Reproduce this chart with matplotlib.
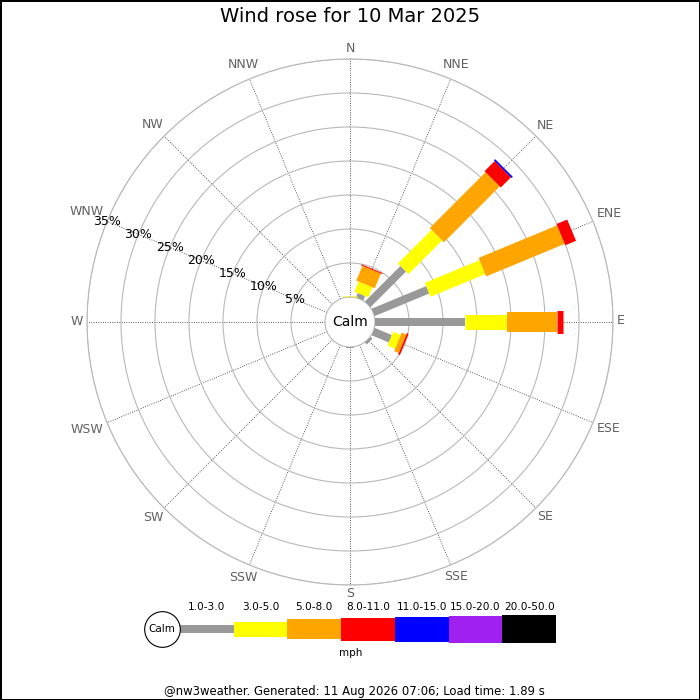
import matplotlib
matplotlib.use('Agg')
import matplotlib.pyplot as plt
import numpy as np

# wind rose data: percent of time per direction, stacked by speed bin
directions = ['N', 'NNE', 'NE', 'ENE', 'E', 'ESE', 'SE', 'SSE',
              'S', 'SSW', 'SW', 'WSW', 'W', 'WNW', 'NW', 'NNW']
speed_bins = ['1.0-3.0', '3.0-5.0', '5.0-8.0', '8.0-11.0', '11.0-15.0', '15.0-20.0', '20.0-50.0']
bin_colors = ['#999999', '#ffff00', '#ffa500', '#ff0000', '#0000ff', '#a020f0', '#000000']

pct_1_3 = [0.0, 0.7, 7.4, 8.7, 13.2, 2.75, 0.4, 0.0, 0.2, 0, 0, 0, 0, 0, 0, 0]
pct_3_5 = [0.2, 1.6, 7.0, 8.7, 6.2, 1.2, 0, 0, 0, 0, 0, 0, 0, 0, 0, 0]
pct_5_8 = [0, 2.35, 11.6, 12.5, 7.4, 0.75, 0, 0, 0, 0, 0, 0, 0, 0, 0, 0]
pct_8_11 = [0, 0.15, 2.1, 1.7, 0.9, 0.25, 0, 0, 0, 0, 0, 0, 0, 0, 0, 0]
pct_11_15 = [0, 0, 0.25, 0, 0, 0, 0, 0, 0, 0, 0, 0, 0, 0, 0, 0]
pct_15_20 = [0] * 16
pct_20_50 = [0] * 16
all_bins = [pct_1_3, pct_3_5, pct_5_8, pct_8_11, pct_11_15, pct_15_20, pct_20_50]

r_ticks = [5, 10, 15, 20, 25, 30, 35]
bar_px = [8, 15, 20, 23, 25, 27, 28]

fig = plt.figure(figsize=(7, 7), dpi=100)
fig.patch.set_facecolor('white')
fig.patch.set_edgecolor('black')
fig.patch.set_linewidth(2)

ax = fig.add_axes([87 / 700, 115 / 700, 526 / 700, 526 / 700], projection='polar')
ax.set_theta_zero_location('N')
ax.set_theta_direction(-1)
ax.set_ylim(0, 35)
ax.set_rorigin(-25 * 35 / 238)
theta = np.deg2rad(np.arange(16) * 22.5)
ax.set_thetagrids(np.arange(16) * 22.5, labels=[''] * 16)
ax.set_rticks(r_ticks)
ax.set_yticklabels([])
ax.tick_params(length=0)
ax.xaxis.grid(True, color='#222222', linestyle=(0, (1, 1.8)), linewidth=0.6)
ax.yaxis.grid(True, color='#b8b8b8', linestyle='-', linewidth=0.8)
ax.spines['polar'].set_color('#b8b8b8')
ax.spines['polar'].set_linewidth(0.8)
ax.spines['inner'].set_color('#b8b8b8')
ax.spines['inner'].set_linewidth(0.8)

# bars of constant pixel width, stacked outward by speed bin
px2pt = 72 / 100
base = np.zeros(16)
for (vals, col, w) in zip(all_bins, bin_colors, bar_px):
    vals = np.array(vals, dtype=float)
    for j in range(16):
        if vals[j] > 0:
            ax.plot([theta[j], theta[j]], [base[j], base[j] + vals[j]], color=col,
                    linewidth=w * px2pt, solid_capstyle='butt', zorder=4)
    base += vals

for r in r_ticks:
    ax.text(np.deg2rad(292.5), r, f'{r}%', ha='center', va='center', fontsize=9, color='black', zorder=6)

ax.text(0.5, 0.5, 'Calm', transform=ax.transAxes, ha='center', va='center', fontsize=10)

labels = []
for (lab, th) in zip(directions, theta):
    t = ax.annotate(lab, xy=(th, 35), xycoords='data', xytext=(0, 0), textcoords='offset pixels',
                    ha='center', va='center', fontsize=9, color='#606060', annotation_clip=False)
    labels.append(t)
fig.canvas.draw()
for (t, th) in zip(labels, theta):
    bb = t.get_window_extent()
    hw = bb.width / 2
    hh = 5.5
    d = 4 + hw * abs(np.sin(th)) + hh * abs(np.cos(th))
    t.set_position((d * np.sin(th), d * np.cos(th) + 1))

fig.text(0.5, 1 - 17 / 700, 'Wind rose for 10 Mar 2025', ha='center', va='center', fontsize=14)

# legend strip
lax = fig.add_axes([180 / 700, 52 / 700, 376 / 700, 38 / 700])
lax.set_xlim(0, 7)
lax.set_ylim(-19, 19)
lax.axis('off')
for (i, (lab, col, h)) in enumerate(zip(speed_bins, bin_colors, bar_px)):
    lax.barh(0, 1, left=i, height=h, color=col, edgecolor='none')
    lax.text(i + 0.5, 22, lab, ha='center', va='center', fontsize=7.6, clip_on=False)
lax.scatter([-18 / 53.71], [0], s=660, facecolor='white', edgecolor='black', linewidth=0.8, clip_on=False, zorder=5)
lax.text(-18 / 53.71, 0, 'Calm', ha='center', va='center', fontsize=7.5, zorder=6, clip_on=False)
lax.text(171 / 53.71, -24, 'mph', ha='center', va='center', fontsize=7.5, clip_on=False)

fig.text(354 / 700, 9 / 700, '@nw3weather. Generated: 11 Aug 2026 07:06; Load time: 1.89 s',
         ha='center', va='center', fontsize=8.4)

fig.savefig('out.png', dpi=100, facecolor='white', edgecolor='black')
